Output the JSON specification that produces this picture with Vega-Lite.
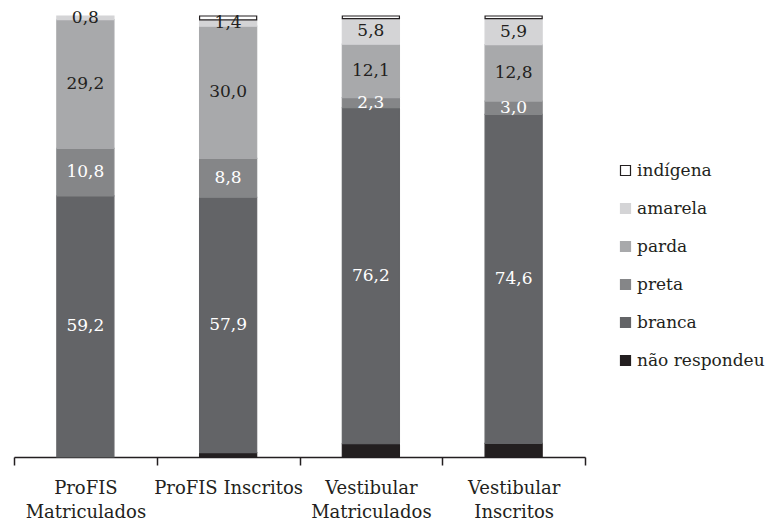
{
  "$schema": "https://vega.github.io/schema/vega-lite/v6.json",
  "width": 571,
  "height": 441,
  "autosize": "none",
  "padding": {"left": 14, "top": 16, "right": 183, "bottom": 65},
  "config": {
    "view": {"stroke": null},
    "font": "DejaVu Serif",
    "locale": {"number": {"decimal": ",", "thousands": ".", "grouping": [3], "currency": ["R$", ""]}}
  },
  "data": {
    "values": [
      {"grupo": "ProFIS Matriculados", "cat": "branca", "ord": 1, "v": 59.2},
      {"grupo": "ProFIS Matriculados", "cat": "preta", "ord": 2, "v": 10.8},
      {"grupo": "ProFIS Matriculados", "cat": "parda", "ord": 3, "v": 29.2},
      {"grupo": "ProFIS Matriculados", "cat": "amarela", "ord": 4, "v": 0.8},
      {"grupo": "ProFIS Inscritos", "cat": "não respondeu", "ord": 0, "v": 1.0},
      {"grupo": "ProFIS Inscritos", "cat": "branca", "ord": 1, "v": 57.9},
      {"grupo": "ProFIS Inscritos", "cat": "preta", "ord": 2, "v": 8.8},
      {"grupo": "ProFIS Inscritos", "cat": "parda", "ord": 3, "v": 30.0},
      {"grupo": "ProFIS Inscritos", "cat": "amarela", "ord": 4, "v": 1.4},
      {"grupo": "ProFIS Inscritos", "cat": "indígena", "ord": 5, "v": 0.9},
      {"grupo": "Vestibular Matriculados", "cat": "não respondeu", "ord": 0, "v": 3.0},
      {"grupo": "Vestibular Matriculados", "cat": "branca", "ord": 1, "v": 76.2},
      {"grupo": "Vestibular Matriculados", "cat": "preta", "ord": 2, "v": 2.3},
      {"grupo": "Vestibular Matriculados", "cat": "parda", "ord": 3, "v": 12.1},
      {"grupo": "Vestibular Matriculados", "cat": "amarela", "ord": 4, "v": 5.8},
      {"grupo": "Vestibular Matriculados", "cat": "indígena", "ord": 5, "v": 0.6},
      {"grupo": "Vestibular Inscritos", "cat": "não respondeu", "ord": 0, "v": 3.1},
      {"grupo": "Vestibular Inscritos", "cat": "branca", "ord": 1, "v": 74.6},
      {"grupo": "Vestibular Inscritos", "cat": "preta", "ord": 2, "v": 3.0},
      {"grupo": "Vestibular Inscritos", "cat": "parda", "ord": 3, "v": 12.8},
      {"grupo": "Vestibular Inscritos", "cat": "amarela", "ord": 4, "v": 5.9},
      {"grupo": "Vestibular Inscritos", "cat": "indígena", "ord": 5, "v": 0.6}
    ]
  },
  "layer": [
    {
      "mark": {"type": "bar", "strokeWidth": 1.2},
      "encoding": {
        "x": {
          "field": "grupo", "type": "nominal", "sort": null,
          "scale": {"paddingInner": 0.6, "paddingOuter": 0.3},
          "axis": {
            "title": null, "labelAngle": 0, "bandPosition": 2.5, "tickOffset": -42.8, "tickExtra": true, "labelOffset": 42.8,
            "domainColor": "#231f20", "domainWidth": 1.5, "tickColor": "#231f20", "tickWidth": 1.5, "tickSize": 8,
            "labelFont": "DejaVu Serif", "labelFontSize": 18, "labelColor": "#231f20",
            "labelPadding": 14, "labelLineHeight": 24, "labelBaseline": "top",
            "labelExpr": "datum.value == 'ProFIS Matriculados' ? ['ProFIS','Matriculados'] : datum.value == 'Vestibular Matriculados' ? ['Vestibular','Matriculados'] : datum.value == 'Vestibular Inscritos' ? ['Vestibular','Inscritos'] : datum.value"
          }
        },
        "y": {"field": "v", "type": "quantitative", "stack": "zero", "scale": {"domain": [0, 100]}, "axis": null},
        "order": {"field": "ord", "type": "quantitative", "sort": "ascending"},
        "color": {
          "field": "cat", "type": "nominal",
          "scale": {
            "domain": ["indígena", "amarela", "parda", "preta", "branca", "não respondeu"],
            "range": ["#ffffff", "#d4d4d6", "#a8a9ab", "#858688", "#636467", "#231f20"]
          },
          "legend": {
            "title": null, "orient": "none", "legendX": 603, "legendY": 146,
            "symbolType": "square", "symbolSize": 100, "symbolStrokeWidth": 1.2,
            "labelFont": "DejaVu Serif", "labelFontSize": 17, "labelColor": "#231f20",
            "labelOffset": 3, "rowPadding": 20
          }
        },
        "stroke": {
          "field": "cat", "type": "nominal",
          "scale": {
            "domain": ["indígena", "amarela", "parda", "preta", "branca", "não respondeu"],
            "range": ["#231f20", "#d4d4d6", "#a8a9ab", "#858688", "#636467", "#231f20"]
          },
          "legend": {
            "title": null, "orient": "none", "legendX": 603, "legendY": 146,
            "symbolType": "square", "symbolSize": 100, "symbolStrokeWidth": 1.2,
            "labelFont": "DejaVu Serif", "labelFontSize": 17, "labelColor": "#231f20",
            "labelOffset": 3, "rowPadding": 20
          }
        }
      }
    },
    {
      "transform": [
        {"stack": "v", "groupby": ["grupo"], "sort": [{"field": "ord", "order": "ascending"}], "as": ["y0", "y1"]},
        {"filter": "datum.cat != 'não respondeu' && datum.cat != 'indígena'"},
        {"calculate": "(datum.y0 + datum.y1) / 2", "as": "ymid"}
      ],
      "mark": {"type": "text", "font": "DejaVu Serif", "fontSize": 17, "baseline": "middle", "align": "center"},
      "encoding": {
        "x": {"field": "grupo", "type": "nominal", "sort": null},
        "y": {"field": "ymid", "type": "quantitative"},
        "text": {"field": "v", "type": "quantitative", "format": ".1f"},
        "color": {
          "condition": {"test": "datum.cat == 'branca' || datum.cat == 'preta'", "value": "#ffffff"},
          "value": "#231f20"
        }
      }
    }
  ]
}
